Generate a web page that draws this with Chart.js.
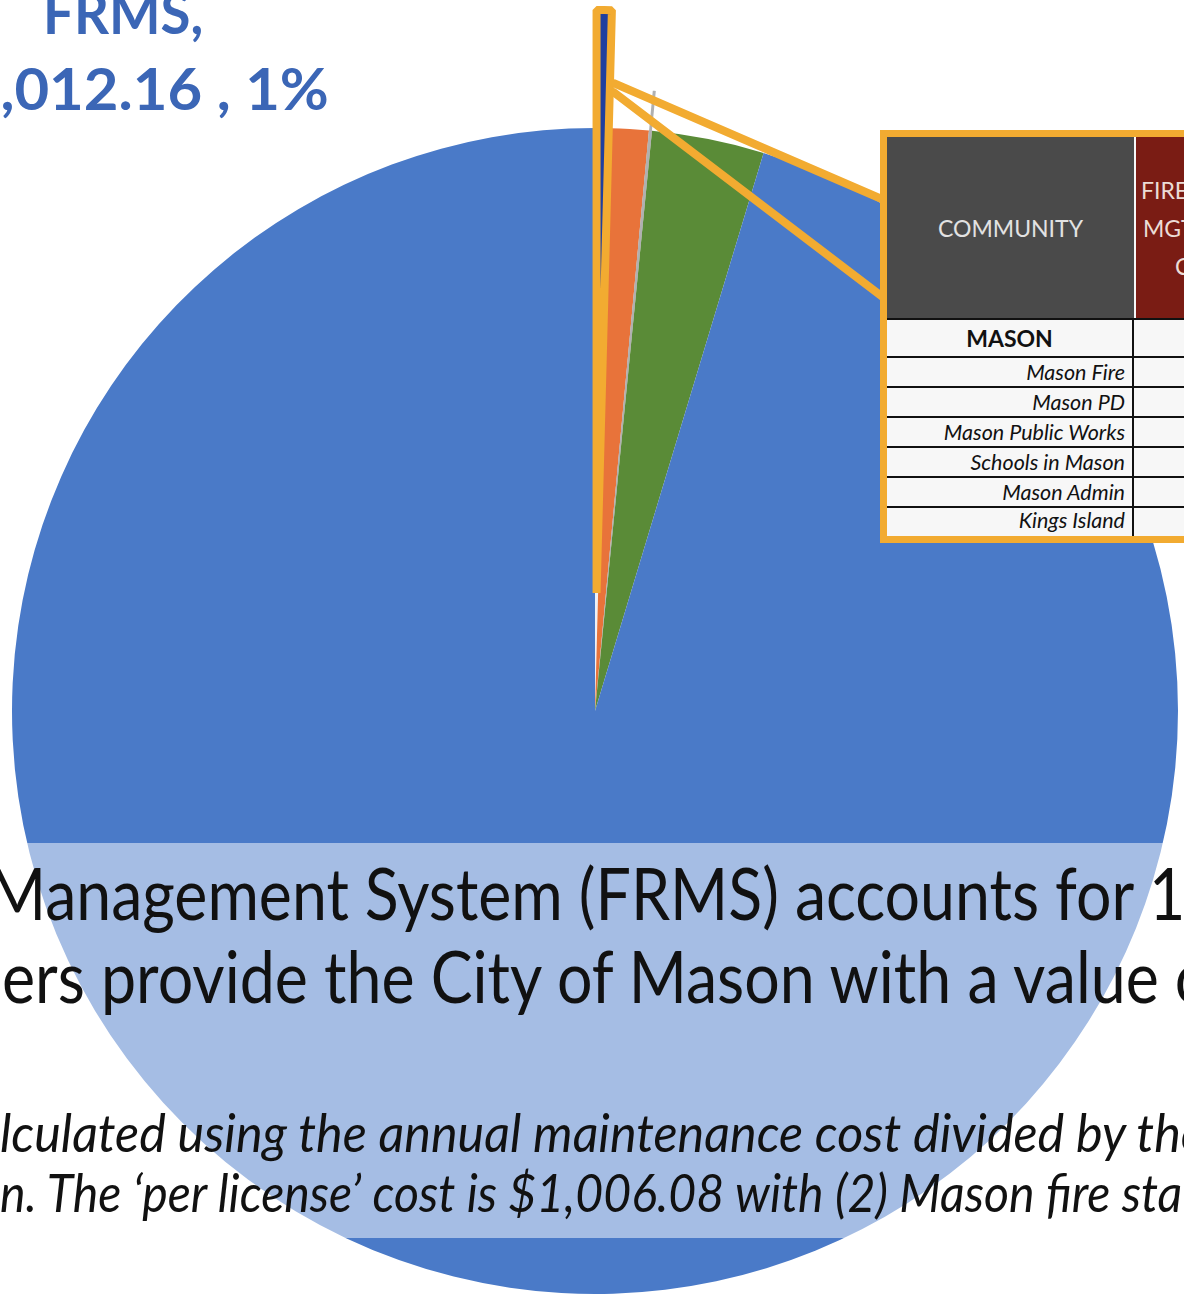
<!doctype html>
<html lang="en">
<head>
<meta charset="utf-8"/>
<title>FRMS share of annual cost</title>
<script src="https://cdn.jsdelivr.net/npm/chart.js"></script>
<style>
*{box-sizing:border-box}
html,body{margin:0;width:1184px;height:1307px;overflow:hidden;background:#fff}
body{position:relative;font-family:Lato,"Open Sans",sans-serif}
#pie{position:absolute;left:0;top:0}
.fit{position:absolute;left:0;white-space:pre;transform-origin:0 0;line-height:1}
#lbl1,#lbl2{font-weight:700;font-size:58px;color:#3b66b6}
#band{position:absolute;left:0;top:843px;width:1184px;height:395px;background:rgba(255,255,255,0.5)}
.big{font-size:71px;color:#111}
.note{font-size:52px;font-style:italic;color:#111}
#callout{position:absolute;left:880px;top:130px;width:420px;height:413px;border:7px solid #f2ab31;background:#f7f7f7;overflow:hidden}
.hdr{display:flex;height:183px;border-bottom:2px solid #111}
.hc1{width:247px;flex:none;background:#4a4a4a;color:#e2e2e2;font-size:23px;display:flex;align-items:center;justify-content:center}
.hc2{width:300px;flex:none;margin-left:2px;background:#7a1c14;color:#ecdcd6;font-size:23px;line-height:38px;white-space:nowrap;display:flex;flex-direction:column;justify-content:center}
.row{display:flex;border-bottom:2px solid #111;height:30px}
.row .c1{width:247px;border-right:2px solid #111;text-align:right;padding-right:7px;font-style:italic;font-size:21.5px;line-height:28px;color:#111;white-space:nowrap}
.row.top{height:38px}
.row.top .c1{text-align:center;font-style:normal;font-weight:700;font-size:23px;line-height:36px;padding-right:0}
.row.last{border-bottom:none}
.row.last .c1{line-height:24px}
</style>
</head>
<body>
<canvas id="pie" width="1184" height="1307"></canvas>

<div id="lbl1" class="fit" style="top:-17px" data-x="43" data-w="160"><span class="fp"></span></div>
<div id="lbl2" class="fit" style="top:59px" data-x="0" data-w="328"><span id="lblPre"></span><span class="fp"></span></div>

<div id="band"></div>
<div class="fit big" style="top:857px" data-x="-12" data-w="1145"><span class="fp">Management System (FRMS) accounts for</span> 1% of</div>
<div class="fit big" style="top:940px" data-x="2" data-w="1157"><span class="fp">ers provide the City of Mason with a value</span> of</div>
<div class="fit note" style="top:1106px" data-x="0" data-w="1125"><span class="fp">lculated using the annual maintenance cost divided by</span> the</div>
<div class="fit note" style="top:1166px" data-x="0" data-w="1110"><span class="fp">n. The ‘per license’ cost is $1,006.08 with (2) Mason fire</span> stations</div>

<div id="callout">
  <div class="hdr">
    <div class="hc1">COMMUNITY</div>
    <div class="hc2">
      <div style="padding-left:5px">FIRE RECORDS</div>
      <div style="padding-left:7px">MGT SYSTEM</div>
      <div style="padding-left:39px">COST</div>
    </div>
  </div>
  <div class="row top"><div class="c1">MASON</div></div>
  <div class="row"><div class="c1">Mason Fire</div></div>
  <div class="row"><div class="c1">Mason PD</div></div>
  <div class="row"><div class="c1">Mason Public Works</div></div>
  <div class="row"><div class="c1">Schools in Mason</div></div>
  <div class="row"><div class="c1">Mason Admin</div></div>
  <div class="row last"><div class="c1">Kings Island</div></div>
</div>

<script>
// slices, clockwise from 12 o'clock
const sliceLabels = ['FRMS', 'Item 2', 'Item 3', 'Item 4', 'All other'];
const sliceValues = [2012.16, 5070, 400, 14930, 457600];
const shownPercent = ['1%', '', '', '', ''];

function money(n){ return '$' + n.toLocaleString('en-US', { minimumFractionDigits: 2, maximumFractionDigits: 2 }); }

// data label of the pulled-out slice
document.querySelector('#lbl1 .fp').textContent = sliceLabels[0] + ',';
const lblTxt = money(sliceValues[0]) + ' , ' + shownPercent[0];
document.getElementById('lblPre').textContent = lblTxt.slice(0, 2);
document.querySelector('#lbl2 .fp').textContent = lblTxt.slice(2);

function fitLine(el){
  const part = el.querySelector('.fp');
  const s = (+el.dataset.w) / part.offsetWidth;
  el.style.transform = 'scaleX(' + s + ')';
  el.style.left = ((+el.dataset.x) - part.offsetLeft * s) + 'px';
}
function fitAll(){ document.querySelectorAll('.fit').forEach(fitLine); }
fitAll();
if (document.fonts && document.fonts.ready) document.fonts.ready.then(fitAll);

const YEL = '#f2ab31';

// Excel-style explosion: the slice is moved out along its middle, keeping its angle
// (chart.js' own offset narrows thin slices to nothing)
const pulled = [
  { index: 0, dist: 118, fill: '#1f3f9f', border: YEL, width: 8 },
  { index: 2, dist: 40, fill: '#b0b0b0', border: 'rgba(0,0,0,0)', width: 0 }
];
const explode = {
  id: 'explode',
  afterDatasetDraw(chart){
    const ctx = chart.ctx;
    const arcs = chart.getDatasetMeta(0).data;
    pulled.forEach(p => {
      const arc = arcs[p.index];
      const mid = (arc.startAngle + arc.endAngle) / 2;
      const saved = arc.options;
      arc.options = Object.assign({}, saved, { backgroundColor: p.fill, borderColor: p.border, borderWidth: p.width, offset: 0 });
      ctx.save();
      ctx.translate(Math.cos(mid) * p.dist, Math.sin(mid) * p.dist);
      arc.draw(ctx);
      ctx.restore();
      arc.options = saved;
    });
  }
};

// zoom lines from the pulled-out slice to the table
const calloutLines = {
  id: 'calloutLines',
  afterDatasetsDraw(chart){
    const arc = chart.getDatasetMeta(0).data[0];
    const d = pulled[0].dist;
    const mid = (arc.startAngle + arc.endAngle) / 2;
    const ax = arc.x + Math.cos(mid) * d, ay = arc.y + Math.sin(mid) * d;
    const R = arc.outerRadius;
    const box = document.getElementById('callout');
    const bx = box.offsetLeft + 4;
    const ends = [box.offsetTop + 70, box.offsetTop + 168];
    const along = [R - 73, R - 82];
    const a = arc.endAngle;
    const ctx = chart.ctx;
    ctx.save();
    ctx.strokeStyle = YEL; ctx.lineWidth = 8; ctx.lineCap = 'round';
    ends.forEach((ey, i) => {
      const sx = ax + Math.cos(a) * along[i] - Math.sin(a) * 4;
      const sy = ay + Math.sin(a) * along[i] + Math.cos(a) * 4;
      ctx.beginPath(); ctx.moveTo(sx, sy); ctx.lineTo(bx, ey); ctx.stroke();
    });
    ctx.restore();
  }
};

new Chart(document.getElementById('pie'), {
  type: 'pie',
  data: {
    labels: sliceLabels,
    datasets: [{
      data: sliceValues,
      // the FRMS spot is left empty where the slice was pulled out
      backgroundColor: ['#eef1f7', '#e8733a', '#b0b0b0', '#5a8b37', '#4a7ac8'],
      borderWidth: 0,
      radius: 583,
      clip: false
    }]
  },
  options: {
    responsive: false,
    animation: false,
    layout: { padding: { left: 6, top: 115 } },
    plugins: { legend: { display: false }, tooltip: { enabled: false } }
  },
  plugins: [explode, calloutLines]
});
</script>
</body>
</html>
